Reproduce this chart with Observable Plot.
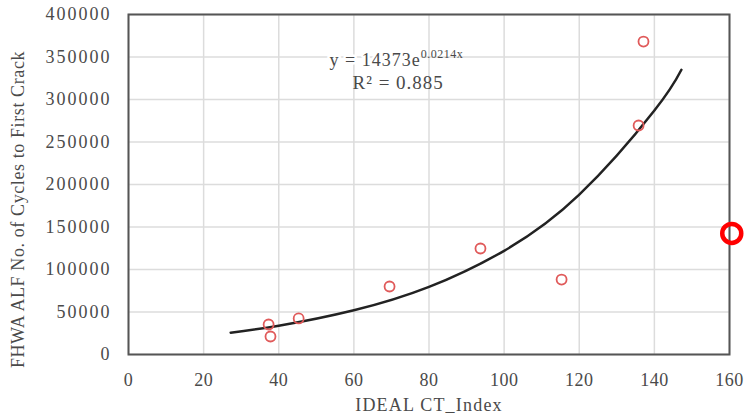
<!DOCTYPE html>
<html>
<head>
<meta charset="utf-8">
<script src="https://cdn.jsdelivr.net/npm/d3@7"></script>
<script src="https://cdn.jsdelivr.net/npm/@observablehq/plot@0.6"></script>
<style>
  html, body { margin: 0; padding: 0; background: #fff; }
  #chart svg { display: block; }
</style>
</head>
<body>
<div id="chart"></div>
<script>
// Measured points (IDEAL CT_Index vs cycles to first crack)
const ctIndex = [37.3, 37.8, 45.3, 69.5, 93.7, 115.3, 135.8, 137.1];
const cycles  = [35300, 21200, 42400, 80000, 124700, 88200, 269400, 368200];

// Exponential trend line
const trendX = [27.2, 40, 60, 80, 100, 120, 140, 147.2];
const trendY = [25700, 33800, 52000, 79500, 122000, 188000, 287000, 335000];

// Highlight circle drawn on the right edge
const markX = [160.6];
const markY = [142500];

const xTicks = [0, 20, 40, 60, 80, 100, 120, 140, 160];
const yTicks = [0, 50000, 100000, 150000, 200000, 250000, 300000, 350000, 400000];

const xLabel = "IDEAL CT_Index";
const yLabel = "FHWA ALF No. of Cycles to First Crack";
const eqMain = "y = 14373e";
const eqExp = "0.0214x";
const r2Text = "R² = 0.885";

const points = ctIndex.map((x, i) => ({x, y: cycles[i]}));
const trend = trendX.map((x, i) => ({x, y: trendY[i]}));
const marks = markX.map((x, i) => ({x, y: markY[i]}));

const font = "'Liberation Serif', 'Times New Roman', serif";
const txt = "#4a4a4a";

const chart = Plot.plot({
  width: 744,
  height: 419,
  marginLeft: 128,
  marginRight: 15,
  marginTop: 14,
  marginBottom: 65,
  style: {fontFamily: font, background: "#fff"},
  x: {domain: [0, 160]},
  y: {domain: [0, 400000]},
  marks: [
    Plot.gridX(xTicks, {stroke: "#dcdcdc", strokeOpacity: 1, strokeWidth: 1.5}),
    Plot.gridY(yTicks, {stroke: "#dcdcdc", strokeOpacity: 1, strokeWidth: 1.5}),
    Plot.frame({stroke: "#555", strokeWidth: 2}),
    Plot.axisX(xTicks, {tickSize: 0, tickPadding: 19, fontSize: 18, fill: txt, label: null, tickFormat: d => String(d)}),
    Plot.axisY(yTicks, {tickSize: 0, tickPadding: 17, fontSize: 18, fill: txt, label: null, tickFormat: d => String(d)}),
    Plot.line(trend, {x: "x", y: "y", curve: "natural", stroke: "#222", strokeWidth: 2.5}),
    Plot.dot(points, {x: "x", y: "y", r: 5, stroke: "#e05a5a", strokeWidth: 1.8, fill: "none"}),
    Plot.dot(marks, {x: "x", y: "y", r: 9.5, stroke: "#ff0000", strokeWidth: 4.5, fill: "none"}),
    Plot.text([eqMain], {x: 77.8, y: 346000, text: d => d, textAnchor: "end", fontSize: 18, fill: txt, stroke: "#fff", strokeWidth: 5, paintOrder: "stroke"}),
    Plot.text([eqExp], {x: 77.8, y: 346000, text: d => d, textAnchor: "start", dy: -6, fontSize: 12, fill: txt}),
    Plot.text([r2Text], {x: 71.8, y: 320000, text: d => d, fontSize: 19, fill: txt}),
    Plot.text([xLabel], {frameAnchor: "bottom", dy: 56, text: d => d, fontSize: 18, fill: txt}),
    Plot.text([yLabel], {frameAnchor: "left", textAnchor: "middle", dx: -110, dy: 25, rotate: -90, text: d => d, fontSize: 18, fill: txt})
  ]
});
// Widen glyph spacing to match the horizontally stretched reference
const svg = d3.select(chart);
svg.selectAll('[aria-label="y-axis tick label"] text').style("letter-spacing", "2px");
svg.selectAll('[aria-label="x-axis tick label"] text').style("letter-spacing", "0.5px");
svg.selectAll("text").each(function() {
  const t = this.textContent;
  if (t === xLabel) d3.select(this).style("letter-spacing", "1.2px");
  if (t === yLabel) d3.select(this).style("letter-spacing", "0.6px");
  if (t === eqMain || t === r2Text) d3.select(this).style("letter-spacing", "1px");
  if (t === eqExp) d3.select(this).style("letter-spacing", "0.5px");
});
document.getElementById("chart").append(chart);
</script>
</body>
</html>
